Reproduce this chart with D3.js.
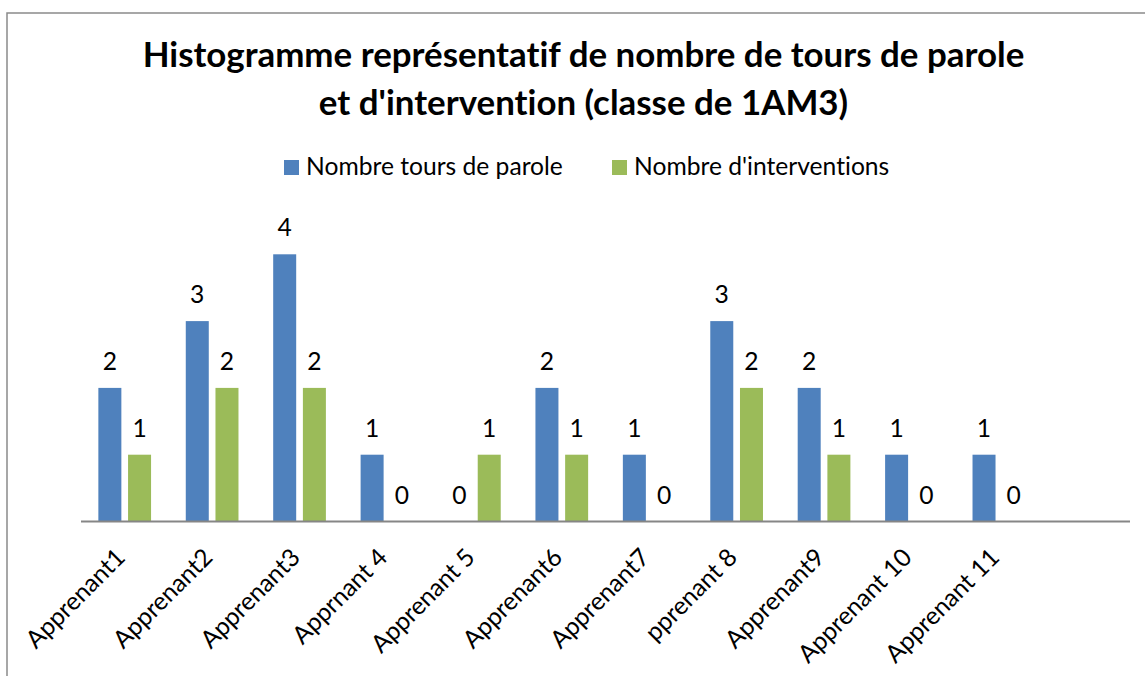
<!DOCTYPE html>
<html>
<head>
<meta charset="utf-8">
<script src="https://cdn.jsdelivr.net/npm/d3@7"></script>
<style>
  html, body { margin: 0; padding: 0; background: #fff; }
  svg { display: block; }
  text { font-family: Lato, "Open Sans", sans-serif; fill: #000; font-variant-ligatures: none; }
</style>
</head>
<body>
<svg id="chart" width="1145" height="676"></svg>
<script>
// ---- data ----
const categories = ["Apprenant1", "Apprenant2", "Apprenant3", "Apprnant 4", "Apprenant 5",
  "Apprenant6", "Apprenant7", "pprenant 8", "Apprenant9", "Apprenant 10", "Apprenant 11"];
const seriesNames = ["Nombre tours de parole", "Nombre d'interventions"];
const toursDeParole = [2, 3, 4, 1, 0, 2, 1, 3, 2, 1, 1];
const interventions = [1, 2, 2, 0, 1, 1, 0, 2, 1, 0, 0];
const titleLines = ["Histogramme représentatif de nombre de tours de parole",
  "et d'intervention (classe de 1AM3)"];

const seriesValues = [toursDeParole, interventions];
const colors = ["#4F81BD", "#9BBB59"];

const svg = d3.select("#chart");

// frame
svg.append("rect").attr("x", 7).attr("y", 13).attr("width", 1300).attr("height", 900)
  .attr("fill", "none").attr("stroke", "#8a8a8a").attr("stroke-width", 1.5);

// layout
const plotLeft = 81, plotRight = 1130, baseY = 521.5;
const step = (plotRight - plotLeft) / 12;
const x0 = d3.scaleBand().domain(categories)
  .range([plotLeft, plotLeft + step * categories.length]).paddingInner(0).paddingOuter(0);
const B = x0.bandwidth();
const x1 = d3.scaleBand().domain(seriesNames)
  .range([B / 2 - 26.35, B / 2 + 26.35]).paddingInner(0.2256).paddingOuter(0);
const y = d3.scaleLinear().domain([0, 4.5]).range([baseY, baseY - 4.5 * 66.8]);

// bars
const rows = categories.map((c, i) => ({ cat: c, vals: seriesNames.map((s, j) => ({ s, j, v: seriesValues[j][i] })) }));
const groups = svg.append("g").selectAll("g").data(rows).join("g")
  .attr("transform", d => `translate(${x0(d.cat)},0)`);
groups.selectAll("rect").data(d => d.vals).join("rect")
  .attr("x", d => x1(d.s))
  .attr("width", x1.bandwidth())
  .attr("y", d => y(d.v))
  .attr("height", d => y(0) - y(d.v))
  .attr("fill", d => colors[d.j]);

// value labels
const valueLabels = groups.selectAll("text").data(d => d.vals).join("text")
  .attr("x", d => x1(d.s) + x1.bandwidth() / 2)
  .attr("y", d => y(d.v) - 18)
  .attr("text-anchor", "middle")
  .text(d => d.v);

// axis line
svg.append("line").attr("x1", plotLeft).attr("x2", plotRight)
  .attr("y1", baseY).attr("y2", baseY)
  .attr("stroke", "#868686").attr("stroke-width", 2);

// category labels
const catLabels = svg.append("g").selectAll("text").data(categories).join("text")
  .attr("text-anchor", "end")
  .attr("transform", d => `translate(${x0(d) + B / 2 + 2},${559}) rotate(-45)`)
  .text(d => d);

// legend
const legendItems = [
  { name: seriesNames[0], sx: 284, tx: 306, color: colors[0] },
  { name: seriesNames[1], sx: 612, tx: 634, color: colors[1] }
];
const lg = svg.append("g");
lg.selectAll("rect").data(legendItems).join("rect")
  .attr("x", d => d.sx).attr("y", 160).attr("width", 15).attr("height", 15)
  .attr("fill", d => d.color);
const legendTexts = lg.selectAll("text").data(legendItems).join("text")
  .attr("x", d => d.tx).attr("y", 175).text(d => d.name);

// title
const titleCx = 583.5;
const titleTexts = svg.append("g").selectAll("text").data(titleLines).join("text")
  .attr("x", titleCx).attr("y", (d, i) => i === 0 ? 66.5 : 115)
  .attr("text-anchor", "middle").attr("font-weight", "bold")
  .text(d => d);

// fit font sizes to reference widths
titleTexts.attr("font-size", 36);
const tw = titleTexts.nodes()[0].getComputedTextLength();
titleTexts.attr("font-size", 36 * 882 / tw);

legendTexts.attr("font-size", 26);
const lw = legendTexts.nodes()[0].getComputedTextLength();
const regSize = 26 * 257 / lw;
legendTexts.attr("font-size", regSize);
valueLabels.attr("font-size", regSize);
catLabels.attr("font-size", regSize);
</script>
</body>
</html>
